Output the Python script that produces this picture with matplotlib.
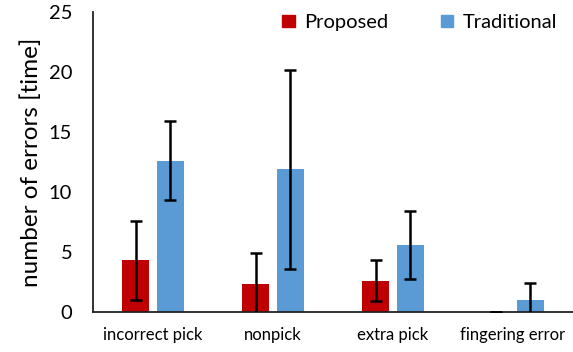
import matplotlib
matplotlib.use("Agg")
import matplotlib.pyplot as plt
import numpy as np
from matplotlib.patches import Patch

categories = ["incorrect pick", "nonpick", "extra pick", "fingering error"]
series_names = ["Proposed", "Traditional"]
proposed = [4.3, 2.3, 2.6, 0.0]
proposed_err = [3.3, 2.6, 1.7, 0.0]
traditional = [12.6, 11.9, 5.6, 1.0]
traditional_err = [3.3, 8.3, 2.85, 1.42]
y_ticks = [0, 5, 10, 15, 20, 25]

plt.rcParams["font.family"] = ["Lato", "DejaVu Sans"]

red = "#C00000"
blue = "#5B9BD5"

fig = plt.figure(figsize=(5.73, 3.52), dpi=100)
ax = fig.add_axes([93 / 573, 40 / 352, 480 / 573, 300 / 352])

x = np.arange(len(categories))
w = 0.225
off = 0.143

ax.bar(x - off, proposed, w, color=red, zorder=2)
ax.bar(x + off, traditional, w, color=blue, zorder=2)
ekw = dict(fmt="none", ecolor="black", elinewidth=1.8, capsize=4.2, capthick=1.8, zorder=3)
ax.errorbar(x - off, proposed, yerr=proposed_err, **ekw)
ax.errorbar(x + off, traditional, yerr=traditional_err, **ekw)

ax.set_xlim(-0.5, len(categories) - 0.5)
ax.set_ylim(0, 25)
ax.set_yticks(y_ticks)
ax.set_yticklabels([str(t) for t in y_ticks], fontsize=14.5)
ax.set_xticks(x)
ax.set_xticklabels(categories, fontsize=12)
ax.tick_params(axis="both", length=0)
ax.tick_params(axis="y", pad=15)
ax.tick_params(axis="x", pad=11)
ax.set_ylabel("number of errors [time]", fontsize=17.5, labelpad=5)

for s in ["top", "right"]:
    ax.spines[s].set_visible(False)
for s in ["left", "bottom"]:
    ax.spines[s].set_linewidth(1.3)
    ax.spines[s].set_color("#222222")

handles = [Patch(color=red, label=series_names[0]), Patch(color=blue, label=series_names[1])]
ax.legend(handles=handles, loc="upper right", bbox_to_anchor=(0.985, 1.02), ncol=2,
          frameon=False, fontsize=14.5, handlelength=0.6, handleheight=0.6,
          handletextpad=0.5, columnspacing=2.6, borderaxespad=0)

fig.savefig("out.png", dpi=100)
